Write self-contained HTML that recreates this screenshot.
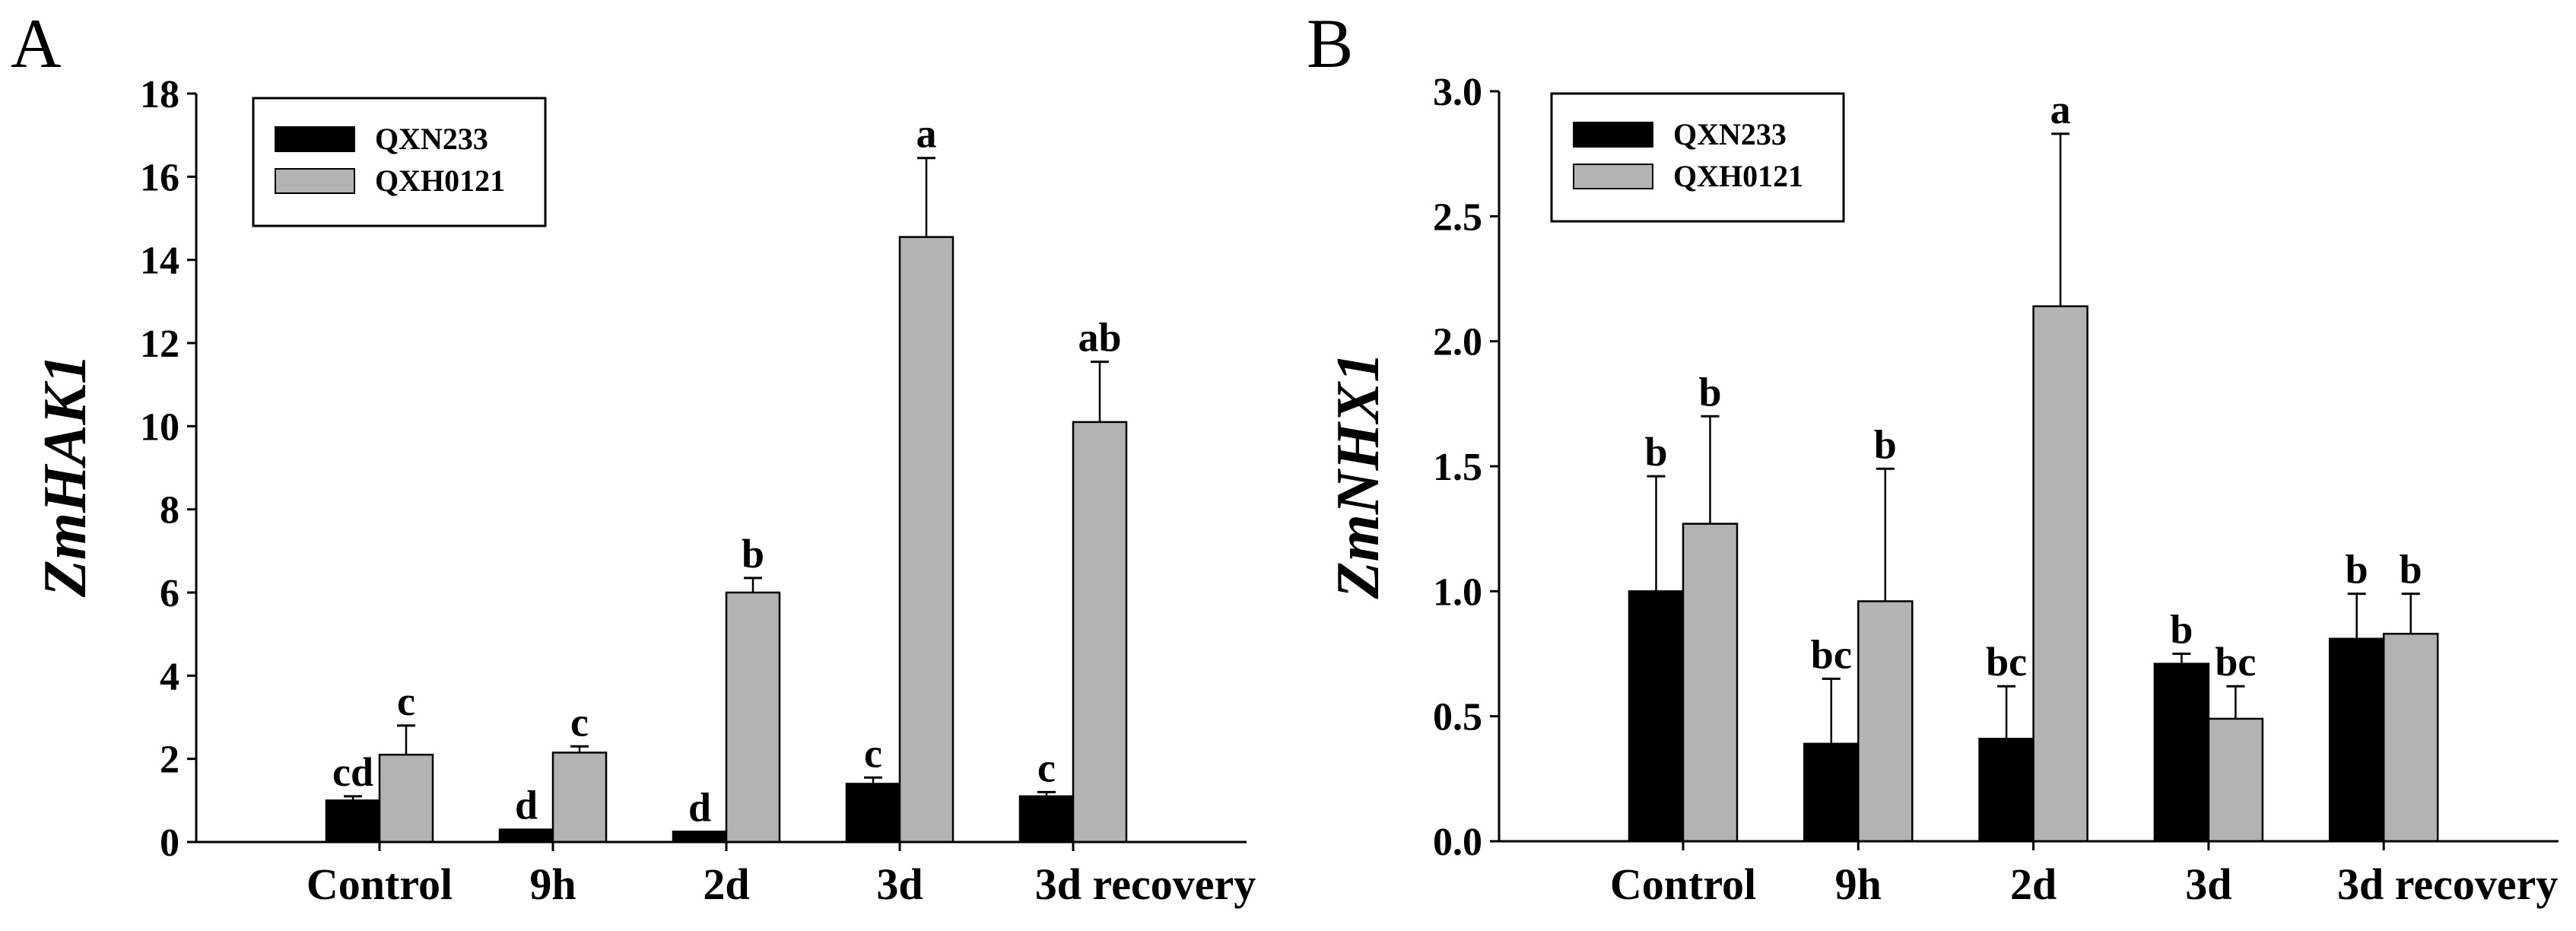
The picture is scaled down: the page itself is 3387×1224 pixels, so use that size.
<!DOCTYPE html>
<html><head><meta charset="utf-8"><style>
html,body{margin:0;padding:0;background:#fff}
svg{display:block}
text{font-family:"Liberation Serif",serif;fill:#000}
</style></head><body>
<svg id="fig" width="3387" height="1224" viewBox="0 0 3387 1224" xmlns="http://www.w3.org/2000/svg"></svg>
<script>
const categories = ["Control","9h","2d","3d","3d recovery"];
const seriesNames = ["QXN233","QXH0121"];
const aBlack = [1.0,0.3,0.25,1.4,1.1];
const aBlackErr = [0.1,0.0,0.0,0.15,0.1];
const aGray = [2.1,2.15,6.0,14.55,10.1];
const aGrayErr = [0.7,0.15,0.35,1.9,1.45];
const aBlackLetters = ["cd","d","d","c","c"];
const aGrayLetters = ["c","c","b","a","ab"];
const aTicks = [0,2,4,6,8,10,12,14,16,18];
const aTickLabels = ["0","2","4","6","8","10","12","14","16","18"];
const bBlack = [1.0,0.39,0.41,0.71,0.81];
const bBlackErr = [0.46,0.26,0.21,0.04,0.18];
const bGray = [1.27,0.96,2.14,0.49,0.83];
const bGrayErr = [0.43,0.53,0.69,0.13,0.16];
const bBlackLetters = ["b","bc","bc","b","b"];
const bGrayLetters = ["b","b","a","bc","b"];
const bTicks = [0,0.5,1.0,1.5,2.0,2.5,3.0];
const bTickLabels = ["0.0","0.5","1.0","1.5","2.0","2.5","3.0"];

const NS="http://www.w3.org/2000/svg";
const svg=document.getElementById('fig');
function mk(tag,attrs,parent,txt){const e=document.createElementNS(NS,tag);for(const k in attrs)e.setAttribute(k,attrs[k]);if(txt!==undefined)e.textContent=txt;(parent||svg).appendChild(e);return e;}

function panel(p){
  const g=mk('g',{});
  
  
  const y=v=>p.y0-(v/p.max)*(p.y0-p.yTop);
  const t=mk('text',{x:p.lx,y:88,'font-size':92},g,p.id);
  
  const ya=mk('line',{x1:p.ax,y1:p.yTop,x2:p.ax,y2:p.y0,stroke:'#000','stroke-width':3},g);
  
  p.ticks.forEach((v,i)=>{
    const tk=mk('line',{x1:p.ax-12,y1:y(v),x2:p.ax,y2:y(v),stroke:'#000','stroke-width':3},g);
    
    const tl=mk('text',{x:p.ax-22,y:y(v)+18,'font-size':52,'font-weight':'bold','text-anchor':'end'},g,p.tickLabels[i]);
    
  });
  const yt=mk('text',{x:0,y:0,'font-size':80,'font-weight':'bold','font-style':'italic','text-anchor':'middle',transform:`translate(${p.tx},625) rotate(-90)`},g,p.title);
  
  const bw=p.bw;
  categories.forEach((c,i)=>{
    const cx=p.cx0+i*p.step;
    const specs=[[p.black[i],p.blackErr[i],p.blackL[i],cx-bw,'#000'],[p.gray[i],p.grayErr[i],p.grayL[i],cx,'#b3b3b3']];
    specs.forEach((s,j)=>{
      const [v,e,l,x,f]=s;
      const top=y(v+e);
      if(e>0){
        const el=mk('line',{x1:x+bw/2,y1:top,x2:x+bw/2,y2:y(v),stroke:'#000','stroke-width':2.5},g);
        
        const ec=mk('line',{x1:x+bw/2-12,y1:top,x2:x+bw/2+12,y2:top,stroke:'#000','stroke-width':3},g);
        
      }
      const r=mk('rect',{x:x,y:y(v),width:bw,height:p.y0-y(v),fill:f,stroke:'#000','stroke-width':2.5},g);
      
      
      const lt=mk('text',{x:x+bw/2,y:top-14,'font-size':54,'font-weight':'bold','text-anchor':'middle'},g,l);
      
    });
    const xt=mk('line',{x1:cx,y1:p.y0,x2:cx,y2:p.y0+12,stroke:'#000','stroke-width':3},g);
    
    const xl=mk('text',{x:cx+(i==4?p.lastShift:0),y:1182,'font-size':58,'font-weight':'bold','text-anchor':'middle'},g,c);
    
  });
  const xa=mk('line',{x1:p.ax,y1:p.y0,x2:p.xEnd,y2:p.y0,stroke:'#000','stroke-width':3},g);
  
  const lg=mk('g',{},g);
  mk('rect',{x:p.lgx,y:p.lgy,width:384,height:168,fill:'#fff',stroke:'#000','stroke-width':3},lg);
  [['#000',0],['#b3b3b3',1]].forEach(([f,k])=>{
    const sw=mk('rect',{x:p.lgx+29,y:p.lgy+38+k*55,width:104,height:32,fill:f,stroke:'#000','stroke-width':2},lg);
    
    const lt=mk('text',{x:p.lgx+160,y:p.lgy+67+k*55,'font-size':40,'font-weight':'bold'},lg,seriesNames[k]);
    
  });
}
panel({id:'A',lx:14,ax:258,y0:1107,yTop:123,max:18,xEnd:1639,cx0:499,step:228,bw:70,ticks:aTicks,tickLabels:aTickLabels,title:'ZmHAK1',tx:112,lastShift:95,
  black:aBlack,blackErr:aBlackErr,gray:aGray,grayErr:aGrayErr,blackL:aBlackLetters,grayL:aGrayLetters,lgx:333,lgy:129});
panel({id:'B',lx:1718,ax:1971,y0:1106,yTop:120,max:3,xEnd:3364,cx0:2213,step:230.3,bw:71,ticks:bTicks,tickLabels:bTickLabels,title:'ZmNHX1',tx:1812,lastShift:84,
  black:bBlack,blackErr:bBlackErr,gray:bGray,grayErr:bGrayErr,blackL:bBlackLetters,grayL:bGrayLetters,lgx:2040,lgy:123});
</script>
</body></html>
